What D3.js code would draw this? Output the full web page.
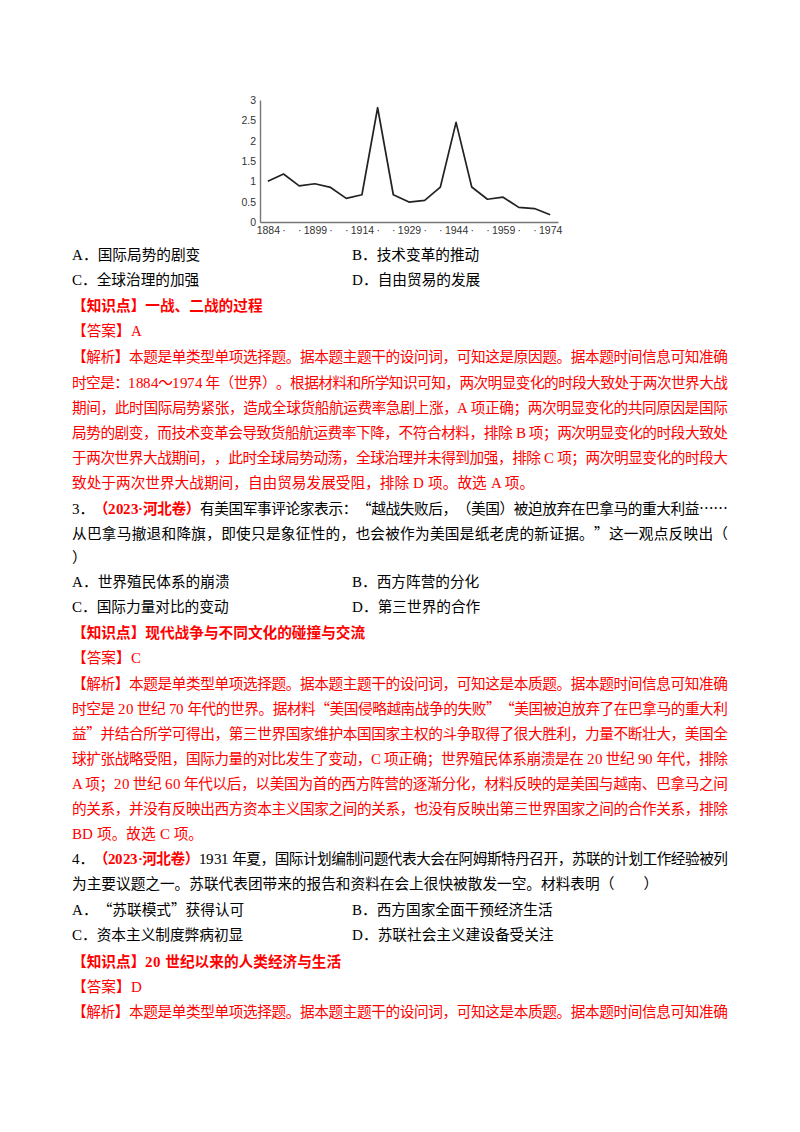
<!DOCTYPE html>
<html>
<head>
<meta charset="utf-8">
<script src="https://cdn.jsdelivr.net/npm/d3@7"></script>
<style>
  /* Latin characters in serif, CJK punctuation falls through to the CJK font */
  @font-face { font-family: "LatinSerif"; src: local("Liberation Serif"); font-weight: 400; unicode-range: U+0000-00FF; }
  @font-face { font-family: "LatinSerif"; src: local("Liberation Serif Bold"), local("LiberationSerif-Bold"); font-weight: 700; unicode-range: U+0000-00FF; }
  html, body { margin: 0; padding: 0; background: #fff; }
  svg { display: block; }
  .page {
    font-family: "LatinSerif", "Noto Sans CJK SC", serif;
    font-size: 14.67px;
    text-spacing-trim: space-all;
  }
  .axis text { font-family: "Liberation Sans", Arial, sans-serif; font-size: 10.5px; fill: #333; }
  .axis path { stroke: #777; stroke-width: 1.4; }
</style>
</head>
<body>
<svg id="page" width="800" height="1132"></svg>
<script>
// chart data: freight rate index, every 5 years
const years = ['1884', '1889', '1894', '1899', '1904', '1909', '1914', '1919', '1924', '1929',
               '1934', '1939', '1944', '1949', '1954', '1959', '1964', '1969', '1974'];
const rates = [1.0, 1.18, 0.89, 0.94, 0.85, 0.58, 0.67, 2.81, 0.67, 0.49,
               0.53, 0.86, 2.45, 0.86, 0.56, 0.61, 0.36, 0.33, 0.18];
const xTickLabels = ['1884', '·', '·', '1899', '·', '·', '1914', '·', '·', '1929',
                     '·', '·', '1944', '·', '·', '1959', '·', '·', '1974'];
const yTicks = [0, 0.5, 1, 1.5, 2, 2.5, 3];

// page text, one entry per printed line
// parts: [text, style]  style: n = black, r = red, rb = red bold
const lines = [
  { y: 255, cols: [[['A．国际局势的剧变', 'n']], [['B．技术变革的推动', 'n']]] },
  { y: 280, cols: [[['C．全球治理的加强', 'n']], [['D．自由贸易的发展', 'n']]] },
  { y: 306, parts: [['【知识点】一战、二战的过程', 'rb']] },
  { y: 331, parts: [['【答案】A', 'r']] },
  { y: 357, just: true, parts: [['【解析】本题是单类型单项选择题。据本题主题干的设问词，可知这是原因题。据本题时间信息可知准确', 'r']] },
  { y: 383, just: true, parts: [['时空是：1884～1974 年（世界）。根据材料和所学知识可知，两次明显变化的时段大致处于两次世界大战', 'r']] },
  { y: 408, just: true, parts: [['期间，此时国际局势紧张，造成全球货船航运费率急剧上涨，A 项正确；两次明显变化的共同原因是国际', 'r']] },
  { y: 433, just: true, parts: [['局势的剧变，而技术变革会导致货船航运费率下降，不符合材料，排除 B 项；两次明显变化的时段大致处', 'r']] },
  { y: 458, just: true, parts: [['于两次世界大战期间，，此时全球局势动荡，全球治理并未得到加强，排除 C 项；两次明显变化的时段大', 'r']] },
  { y: 483, parts: [['致处于两次世界大战期间，自由贸易发展受阻，排除 D 项。故选 A 项。', 'r']] },
  { y: 509, just: true, parts: [['3．', 'n'], ['（2023·河北卷）', 'rb'], ['有美国军事评论家表示：“越战失败后，（美国）被迫放弃在巴拿马的重大利益……', 'n']] },
  { y: 534, just: true, parts: [['从巴拿马撤退和降旗，即使只是象征性的，也会被作为美国是纸老虎的新证据。”这一观点反映出（', 'n']] },
  { y: 558, parts: [['）', 'n']] },
  { y: 582, cols: [[['A．世界殖民体系的崩溃', 'n']], [['B．西方阵营的分化', 'n']]] },
  { y: 607, cols: [[['C．国际力量对比的变动', 'n']], [['D．第三世界的合作', 'n']]] },
  { y: 633, parts: [['【知识点】现代战争与不同文化的碰撞与交流', 'rb']] },
  { y: 658, parts: [['【答案】C', 'r']] },
  { y: 684, just: true, parts: [['【解析】本题是单类型单项选择题。据本题主题干的设问词，可知这是本质题。据本题时间信息可知准确', 'r']] },
  { y: 709, just: true, parts: [['时空是 20 世纪 70 年代的世界。据材料“美国侵略越南战争的失败”“美国被迫放弃了在巴拿马的重大利', 'r']] },
  { y: 734, just: true, parts: [['益”并结合所学可得出，第三世界国家维护本国国家主权的斗争取得了很大胜利，力量不断壮大，美国全', 'r']] },
  { y: 759, just: true, parts: [['球扩张战略受阻，国际力量的对比发生了变动，C 项正确；世界殖民体系崩溃是在 20 世纪 90 年代，排除', 'r']] },
  { y: 784, just: true, parts: [['A 项；20 世纪 60 年代以后，以美国为首的西方阵营的逐渐分化，材料反映的是美国与越南、巴拿马之间', 'r']] },
  { y: 809, just: true, parts: [['的关系，并没有反映出西方资本主义国家之间的关系，也没有反映出第三世界国家之间的合作关系，排除', 'r']] },
  { y: 834, parts: [['BD 项。故选 C 项。', 'r']] },
  { y: 859, just: true, parts: [['4．', 'n'], ['（2023·河北卷）', 'rb'], ['1931 年夏，国际计划编制问题代表大会在阿姆斯特丹召开，苏联的计划工作经验被列', 'n']] },
  { y: 884, parts: [['为主要议题之一。苏联代表团带来的报告和资料在会上很快被散发一空。材料表明（　　）', 'n']] },
  { y: 910, cols: [[['A．“苏联模式”获得认可', 'n']], [['B．西方国家全面干预经济生活', 'n']]] },
  { y: 935, cols: [[['C．资本主义制度弊病初显', 'n']], [['D．苏联社会主义建设备受关注', 'n']]] },
  { y: 962, parts: [['【知识点】20 世纪以来的人类经济与生活', 'rb']] },
  { y: 987, parts: [['【答案】D', 'r']] },
  { y: 1012, just: true, parts: [['【解析】本题是单类型单项选择题。据本题主题干的设问词，可知这是本质题。据本题时间信息可知准确', 'r']] }
];

const svg = d3.select('#page');
svg.append('rect').attr('width', 800).attr('height', 1132).attr('fill', '#fff');

// ---- chart ----
const x = d3.scalePoint().domain(years).range([260, 558]).padding(0.5);
const y = d3.scaleLinear().domain([0, 3]).range([222, 100]);

const chart = svg.append('g');

chart.append('g')
    .attr('class', 'axis')
    .attr('transform', 'translate(0,222)')
    .call(d3.axisBottom(x).tickSize(0).tickPadding(5)
        .tickFormat((d, i) => xTickLabels[i]));

chart.append('g')
    .attr('class', 'axis')
    .attr('transform', 'translate(260,0)')
    .call(d3.axisLeft(y).tickValues(yTicks).tickSize(0).tickPadding(4)
        .tickFormat(d3.format('')));

chart.selectAll('.axis path').attr('fill', 'none');

const line = d3.line()
    .x((d, i) => x(years[i]))
    .y(d => y(d));

chart.append('path')
    .datum(rates)
    .attr('d', line)
    .attr('fill', 'none')
    .attr('stroke', '#222')
    .attr('stroke-width', 1.7)
    .attr('stroke-linejoin', 'round');

// ---- text ----
const LEFT = 72, RIGHT = 728, COL2 = 352;
const styles = {
  n: { fill: '#000', weight: 400 },
  r: { fill: '#ff0000', weight: 400 },
  rb: { fill: '#ff0000', weight: 700 }
};

const text = svg.append('g').attr('class', 'page');

function addLine(parts, xPos, yPos, just) {
  const t = text.append('text')
      .attr('x', xPos)
      .attr('y', yPos + 5);
  parts.forEach(p => {
    t.append('tspan')
        .text(p[0])
        .attr('fill', styles[p[1]].fill)
        .attr('font-weight', styles[p[1]].weight);
  });
  if (just) {
    t.attr('textLength', RIGHT - xPos).attr('lengthAdjust', 'spacing');
  }
}

lines.forEach(l => {
  if (l.cols) {
    addLine(l.cols[0], LEFT, l.y, false);
    addLine(l.cols[1], COL2, l.y, false);
  } else {
    addLine(l.parts, LEFT, l.y, l.just);
  }
});
</script>
</body>
</html>
